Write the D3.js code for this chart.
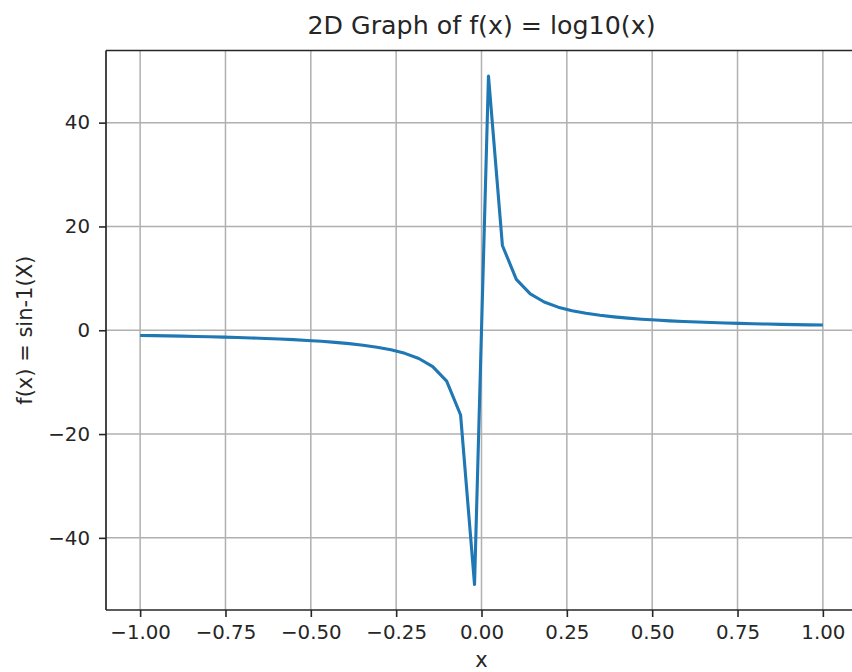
<!DOCTYPE html>
<html><head><meta charset="utf-8">
<script src="https://cdn.jsdelivr.net/npm/d3@7"></script>
<style>body{margin:0;background:#fff;overflow:hidden}svg{display:block}text{font-family:"DejaVu Sans",sans-serif;fill:#262626}</style>
</head><body>
<script>
const xValues = [-1.0,-0.95918,-0.91837,-0.87755,-0.83673,-0.79592,-0.7551,-0.71429,-0.67347,-0.63265,-0.59184,-0.55102,-0.5102,-0.46939,-0.42857,-0.38776,-0.34694,-0.30612,-0.26531,-0.22449,-0.18367,-0.14286,-0.10204,-0.06122,-0.02041,
0.02041,0.06122,0.10204,0.14286,0.18367,0.22449,0.26531,0.30612,0.34694,0.38776,0.42857,0.46939,0.5102,0.55102,0.59184,0.63265,0.67347,0.71429,0.7551,0.79592,0.83673,0.87755,0.91837,0.95918,1.0];
const yValues = [-1.0,-1.0426,-1.0889,-1.1395,-1.1951,-1.2564,-1.3243,-1.4,-1.4848,-1.5806,-1.6897,-1.8148,-1.96,-2.1304,-2.3333,-2.5789,-2.8824,-3.2667,-3.7692,-4.4545,-5.4444,-7.0,-9.8,-16.3333,-49.0,
49.0,16.3333,9.8,7.0,5.4444,4.4545,3.7692,3.2667,2.8824,2.5789,2.3333,2.1304,1.96,1.8148,1.6897,1.5806,1.4848,1.4,1.3243,1.2564,1.1951,1.1395,1.0889,1.0426,1.0];
const xTicks = [-1.0,-0.75,-0.5,-0.25,0,0.25,0.5,0.75,1.0];
const yTicks = [-40,-20,0,20,40];
const titleText = "2D Graph of f(x) = log10(x)";
const xLabelText = "x";
const yLabelText = "f(x) = sin-1(X)";

const W = 852, H = 672;
const L = 106, R = 857, T = 50.5, B = 610;
const svg = d3.select("body").append("svg").attr("width", W).attr("height", H);
const x = d3.scaleLinear().domain([-1.1, 1.1]).range([L, R]);
const y = d3.scaleLinear().domain([-53.9, 53.9]).range([B, T]);
const fmtMinus = s => s.replace("-", "\u2212");

// grid
const g = svg.append("g");
g.selectAll(".gx").data(xTicks).enter().append("line")
  .attr("x1", d => x(d)).attr("x2", d => x(d)).attr("y1", T).attr("y2", B)
  .attr("stroke", "#b0b0b0").attr("stroke-width", 1.5);
g.selectAll(".gy").data(yTicks).enter().append("line")
  .attr("y1", d => y(d)).attr("y2", d => y(d)).attr("x1", L).attr("x2", R)
  .attr("stroke", "#b0b0b0").attr("stroke-width", 1.5);

// line
const pts = xValues.map((v, i) => [v, yValues[i]]);
svg.append("path").datum(pts)
  .attr("d", d3.line().x(d => x(d[0])).y(d => y(d[1])))
  .attr("fill", "none").attr("stroke", "#1f77b4").attr("stroke-width", 3.1)
  .attr("stroke-linejoin", "round").attr("stroke-linecap", "butt");

// axes
const xAxis = d3.axisBottom(x).tickValues(xTicks).tickSize(7).tickPadding(8)
  .tickFormat(d => fmtMinus(d3.format(".2f")(d)));
const gx = svg.append("g").attr("transform", `translate(0,${B})`).call(xAxis);
const yAxis = d3.axisLeft(y).tickValues(yTicks).tickSize(7).tickPadding(9)
  .tickFormat(d => fmtMinus(String(d)));
const gy = svg.append("g").attr("transform", `translate(${L},0)`).call(yAxis);
[gx, gy].forEach(a => {
  a.select(".domain").remove();
  a.selectAll(".tick line").attr("stroke", "#262626").attr("stroke-width", 1.6);
  a.selectAll(".tick text").style("font-size", "19.8px").attr("fill", "#262626");
});

// spines
const sp = svg.append("g").attr("stroke", "#262626").attr("stroke-width", 1.7).attr("fill", "none");
sp.append("line").attr("x1", L).attr("x2", L).attr("y1", T).attr("y2", B);
sp.append("line").attr("x1", L).attr("x2", R).attr("y1", B).attr("y2", B);
sp.append("line").attr("x1", L).attr("x2", R).attr("y1", T).attr("y2", T);
sp.append("line").attr("x1", R).attr("x2", R).attr("y1", T).attr("y2", B);

// labels
svg.append("text").attr("x", (L + R) / 2).attr("y", 34).attr("text-anchor", "middle")
  .style("font-size", "25.3px").text(titleText);
svg.append("text").attr("x", (L + R) / 2).attr("y", 666.5).attr("text-anchor", "middle")
  .style("font-size", "21px").text(xLabelText);
svg.append("text").attr("transform", `translate(32,${(T + B) / 2}) rotate(-90)`)
  .attr("text-anchor", "middle").style("font-size", "21px").text(yLabelText);
</script>
</body></html>
